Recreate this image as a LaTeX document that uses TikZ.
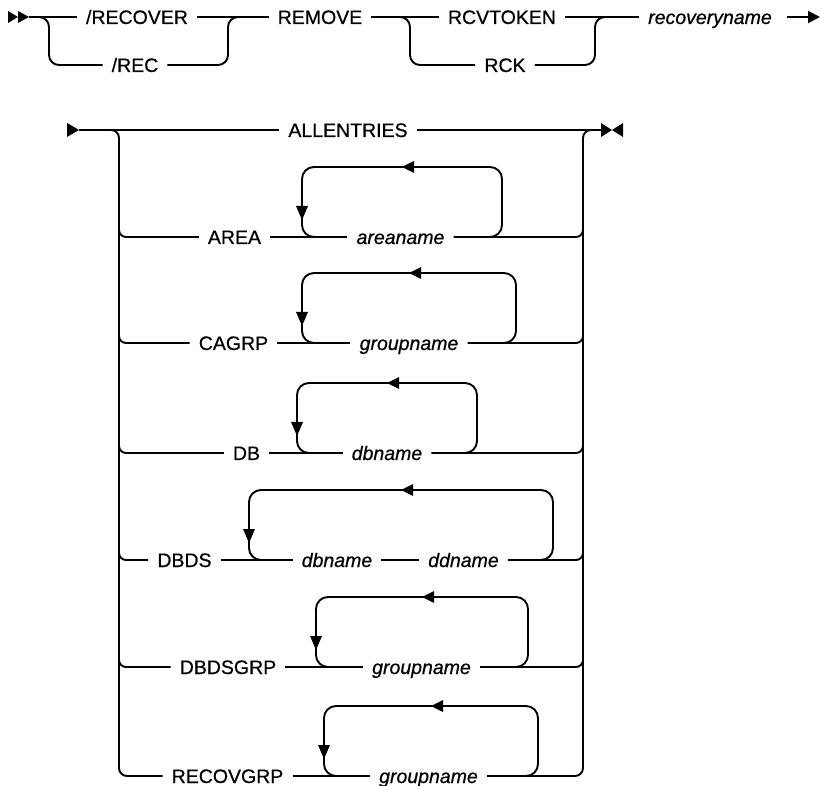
\documentclass[tikz,border=0pt]{standalone}
\usepackage{fontspec}
\setmainfont{Liberation Sans}[BoldFont={Liberation Sans}, BoldFeatures={FakeBold=0.6}, BoldItalicFont={Liberation Sans Italic}, BoldItalicFeatures={FakeBold=0.6}]
\usetikzlibrary{arrows.meta}
\tikzset{
  kw/.style={font=\fontsize{19.5}{20}\selectfont\bfseries, inner xsep=9pt, inner ysep=0pt, text height=18pt, text depth=4pt},
  var/.style={kw, font=\fontsize{19.5}{20}\selectfont\bfseries\itshape},
  rail/.style={line width=1.9pt},
}
\newcommand\synloop[4]{%
  \draw[rail, rounded corners=12] ({#1+14},#4) -- (#1,#4) -- (#1,#3) -- (#2,#3) -- (#2,#4) -- ({#2-14},#4);
  \fill ({(#1+#2)/2},#3) -- ++(12,-6) -- ++(0,12) -- cycle;
  \fill (#1,{#4-17}) -- ++(-6,-14) -- ++(12,0) -- cycle;}
\begin{document}
\begin{tikzpicture}[x=1pt,y=-1pt]
\useasboundingbox (0,0) rectangle (820,786);
% ---------- row 1 ----------
\fill (8,11) -- (18,17) -- (8,23) -- cycle;
\fill (18,11) -- (29,17) -- (18,23) -- cycle;
\coordinate (s1) at (29,17);
\node[kw] (n1) at (137,17) {/RECOVER};
\node[kw] (n2) at (135,65) {/REC};
\node[kw] (n3) at (320,17) {REMOVE};
\node[kw] (n4) at (502,17) {RCVTOKEN};
\node[var] (n6) at (710,17) {recoveryname};
\node[kw] (n5) at (505,65) {RCK};
\coordinate (e1) at (820,17);
\draw[rail] (s1) -- (n1.west);
\draw[rail, rounded corners=10] (39,17) -- (49,17) -- (49,65) -- (n2.west);
\draw[rail] (n1.east) -- (n3.west);
\draw[rail, rounded corners=10] (n2.east) -- (228,65) -- (228,17) -- (238,17);
\draw[rail] (n3.east) -- (n4.west);
\draw[rail, rounded corners=10] (400,17) -- (410,17) -- (410,65) -- (n5.west);
\draw[rail] (n4.east) -- (n6.west);
\draw[rail, rounded corners=10] (n5.east) -- (595,65) -- (595,17) -- (605,17);
\draw[rail, -{Triangle[length=12pt,width=12pt]}] ([xshift=6pt]n6.east) -- (e1);
% ---------- row 2 ----------
\fill (67,123) -- (79,130) -- (67,137) -- cycle;
\fill (601,123) -- (612,130) -- (601,137) -- cycle;
\fill (623,123) -- (612,130) -- (623,137) -- cycle;
\coordinate (s2) at (79,130);
\coordinate (e2) at (603,130);
\node[kw] (all) at (348,130) {ALLENTRIES};
\draw[rail] (s2) -- (all.west);
\draw[rail] (all.east) -- (e2);
\node[kw] (k1) at (234.5,237) {AREA};
\node[kw] (k2) at (233.5,343) {CAGRP};
\node[kw] (k3) at (246.5,453) {DB};
\node[kw] (k4) at (184.5,560) {DBDS};
\node[kw] (k5) at (228,667) {DBDSGRP};
\node[kw] (k6) at (227.5,776) {RECOVGRP};
\node[var] (i1) at (400.5,237) {areaname};
\node[var] (i2) at (409,343) {groupname};
\node[var] (i3) at (387,453) {dbname};
\node[var] (i4a) at (337,560) {dbname};
\node[var] (i4b) at (463.5,560) {ddname};
\node[var] (i5) at (421.5,667) {groupname};
\node[var] (i6) at (428.5,776) {groupname};
% left bracket
\draw[rail, rounded corners=8] (110,130) -- (119,130) -- (119,776) -- (k6.west);
\foreach \k/\y in {k1/237,k2/343,k3/453,k4/560,k5/667}
  \draw[rail, rounded corners=7] (119,\y-10) -- (119,\y) -- (\k.west);
% right bracket
\draw[rail, rounded corners=8] (i6.east) -- (583,776) -- (583,130) -- (592,130);
\foreach \i/\y in {i1/237,i2/343,i3/453,i4b/560,i5/667}
  \draw[rail, rounded corners=7] (\i.east) -- (583,\y) -- (583,\y-10);
% row lines
\draw[rail] (k1.east) -- (i1.west);
\draw[rail] (k2.east) -- (i2.west);
\draw[rail] (k3.east) -- (i3.west);
\draw[rail] (k4.east) -- (i4a.west);
\draw[rail] (i4a.east) -- (i4b.west);
\draw[rail] (k5.east) -- (i5.west);
\draw[rail] (k6.east) -- (i6.west);
% repeat loops
\synloop{302}{502}{167}{237}
\synloop{302}{516}{273}{343}
\synloop{297}{477}{383}{453}
\synloop{249}{553}{490}{560}
\synloop{316}{528}{597}{667}
\synloop{324}{538}{706}{776}
\end{tikzpicture}
\end{document}
